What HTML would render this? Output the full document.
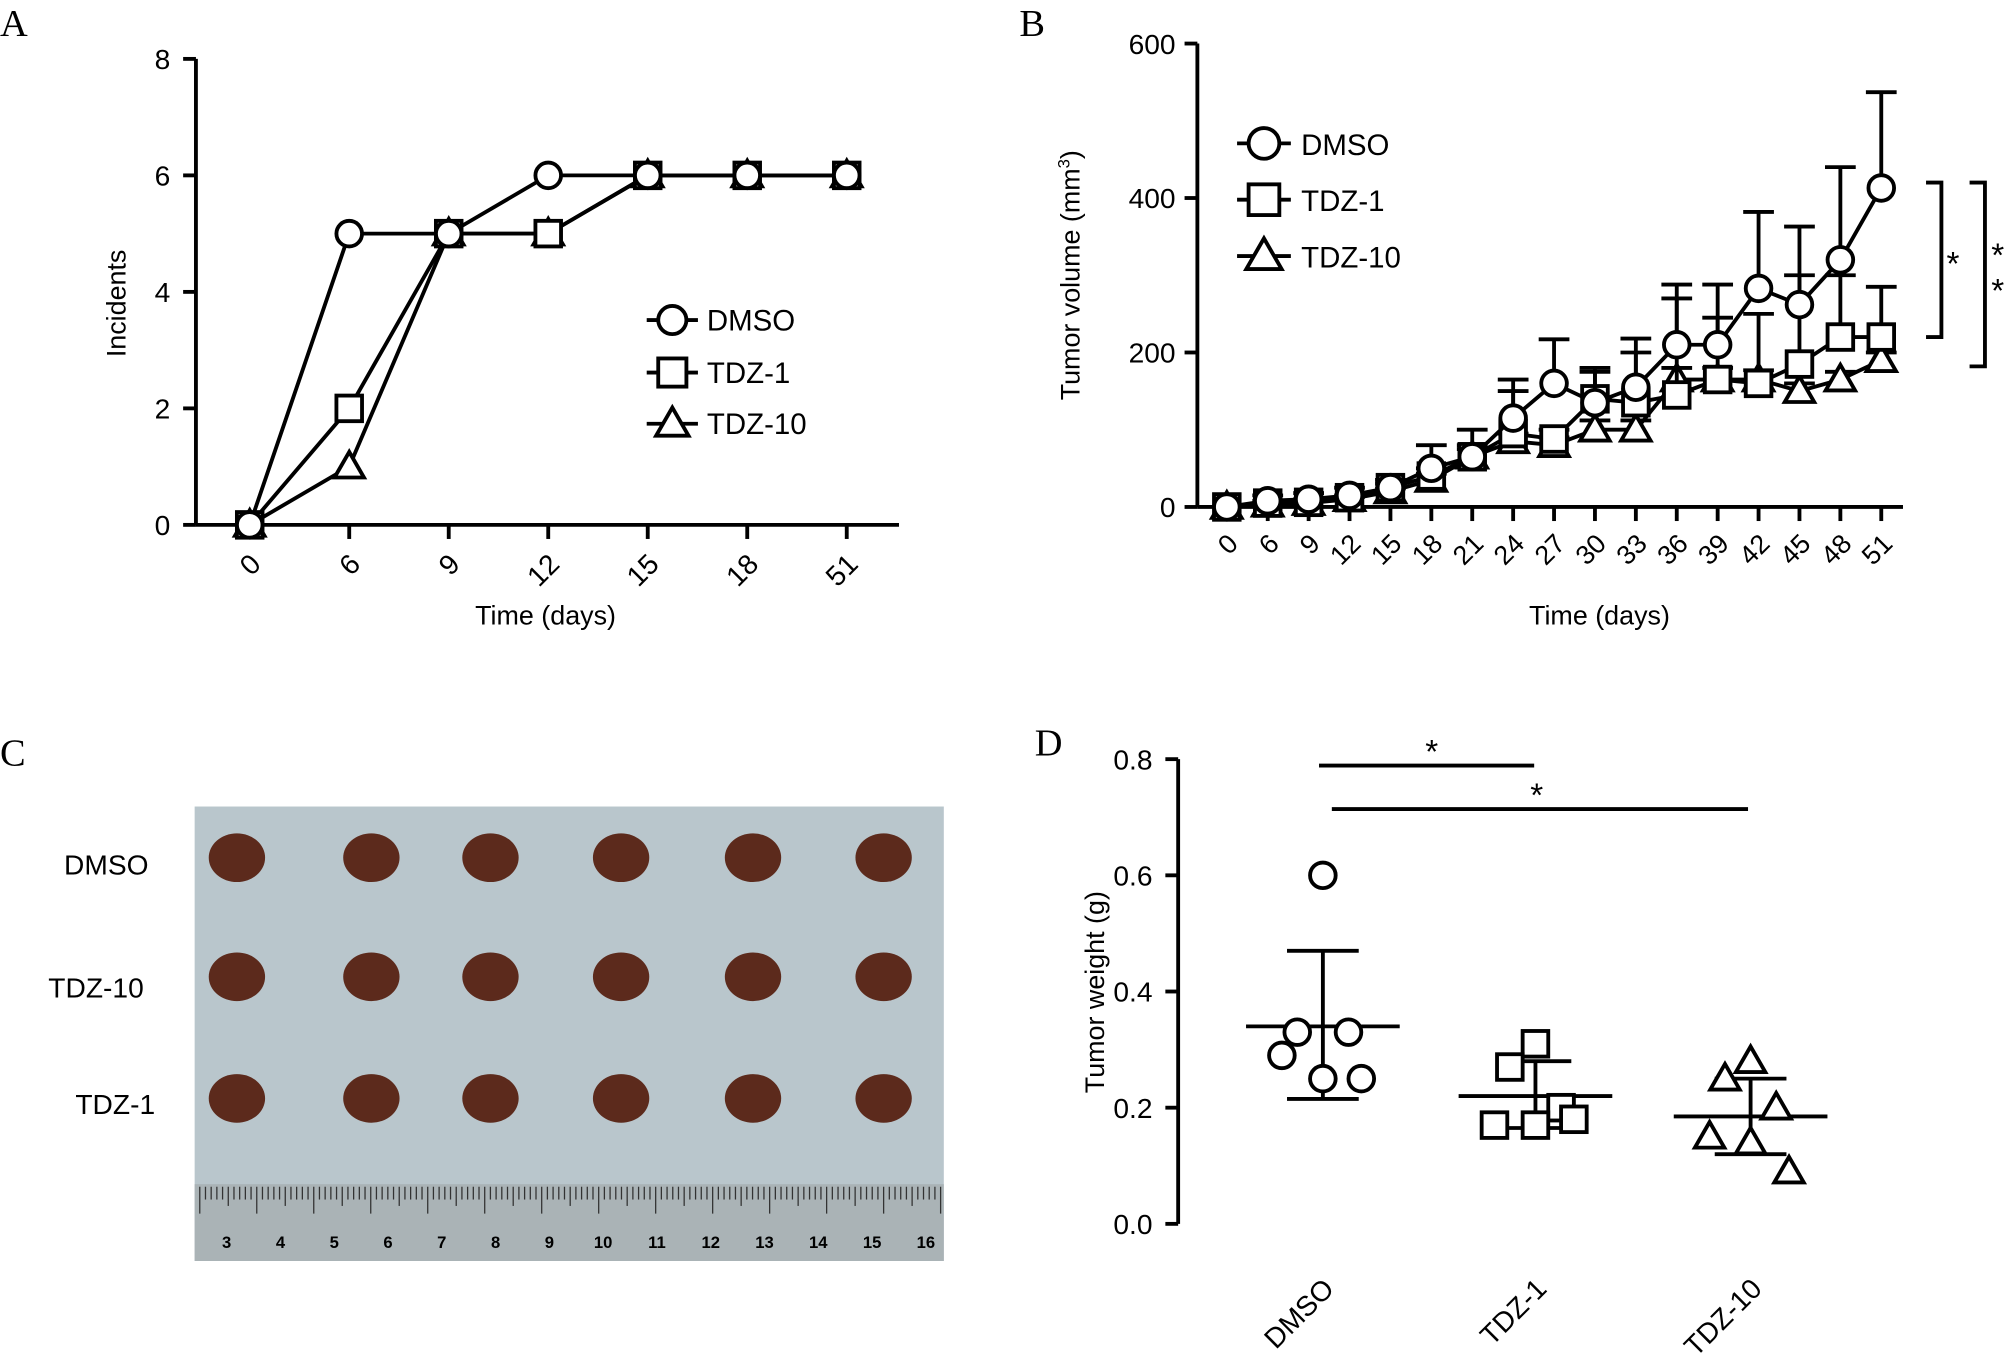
<!DOCTYPE html>
<html><head><meta charset="utf-8"><style>
html,body{margin:0;padding:0;background:#fff}
svg{display:block}
text{font-family:"Liberation Sans",Arial,sans-serif;fill:#000}
.pl{font-family:"Liberation Serif",serif;font-size:30px}
</style></head><body>
<svg id="fig" width="2008" height="1357" viewBox="0 0 1568 1060" preserveAspectRatio="none" xmlns="http://www.w3.org/2000/svg">
<text class="pl" x="0" y="28">A</text>
<text class="pl" x="796" y="28">B</text>
<text class="pl" x="0" y="598">C</text>
<text class="pl" x="808" y="590">D</text>
<g id="pa"></g>
<g id="pb"></g>
<g id="pc"></g>
<g id="pd"></g>
</svg>
<script>
// Panel A data
const aCats = ["0","6","9","12","15","18","51"];
const aDMSO = [0,5,5,6,6,6,6];
const aTDZ1 = [0,2,5,5,6,6,6];
const aTDZ10 = [0,1,5,5,6,6,6];
const aTicks = [0,2,4,6,8];
// Panel B data
const bCats = ["0","6","9","12","15","18","21","24","27","30","33","36","39","42","45","48","51"];
const bDMSO = [0,8,10,15,25,50,65,115,160,135,155,210,210,283,262,320,413];
const bDMSOerr = [0,7,8,10,10,30,35,50,57,45,63,78,78,99,101,120,124];
const bTDZ1 = [0,5,6,12,25,40,65,95,88,140,135,145,165,160,185,220,220];
const bTDZ1err = [0,3,4,3,5,10,15,55,12,35,65,125,80,90,115,80,65];
const bTDZ10 = [0,3,5,10,20,35,65,85,80,100,100,165,165,165,150,165,190];
const bTDZ10err = [0,2,2,3,4,8,10,10,10,12,12,15,15,12,10,10,10];
const bTicks = [0,200,400,600];
// Panel D data
const dCats = ["DMSO","TDZ-1","TDZ-10"];
const dDMSO = [0.60,0.33,0.33,0.29,0.25,0.25];
const dTDZ1 = [0.31,0.27,0.20,0.17,0.17,0.18];
const dTDZ10 = [0.28,0.25,0.20,0.15,0.14,0.09];
const dMean = [0.34,0.22,0.185];
const dSDhi = [0.47,0.28,0.25];
const dSDlo = [0.215,0.165,0.12];
const dTicks = [0,0.2,0.4,0.6,0.8];

const NS="http://www.w3.org/2000/svg";
function mk(p,tag,at,txt){const e=document.createElementNS(NS,tag);for(const k in at)e.setAttribute(k,at[k]);if(txt!==undefined)e.textContent=txt;p.appendChild(e);return e;}
function marker(g,shape,x,y,r,sw){
  let e;
  if(shape==="circle") e=mk(g,"circle",{cx:x,cy:y,r:r,fill:"#fff",stroke:"#000","stroke-width":sw});
  else if(shape==="square") e=mk(g,"rect",{x:x-r,y:y-r,width:2*r,height:2*r,fill:"#fff",stroke:"#000","stroke-width":sw});
  else e=mk(g,"polygon",{points:`${x},${y-r*1.15} ${x-r*1.15},${y+r*0.85} ${x+r*1.15},${y+r*0.85}`,fill:"#fff",stroke:"#000","stroke-width":sw});
  return e;
}
function rotLabel(g,txt,x,y,fs,ang){
  const t=mk(g,"text",{x:x,y:y,"font-size":fs,"text-anchor":"end",transform:`rotate(${ang} ${x} ${y})`},txt);
  return t;
}
// ---------- Panel A ----------
(function(){
  const g=document.getElementById("pa");
  const x0=195,dx=77.7,yb=410,ppu=45.5;
  const X=i=>x0+i*dx, Y=v=>yb-v*ppu;
  mk(g,"line",{x1:153,y1:Y(8),x2:153,y2:yb,stroke:"#000","stroke-width":3});
  mk(g,"line",{x1:153,y1:yb,x2:702,y2:yb,stroke:"#000","stroke-width":3});
  aTicks.forEach(v=>{
    const t=mk(g,"line",{x1:143,y1:Y(v),x2:153,y2:Y(v),stroke:"#000","stroke-width":3});
    
    
    mk(g,"text",{x:133,y:Y(v)+8,"font-size":22,"text-anchor":"end"},v);
  });
  aCats.forEach((c,i)=>{
    mk(g,"line",{x1:X(i),y1:yb,x2:X(i),y2:yb+11,stroke:"#000","stroke-width":3});
    const t=rotLabel(g,c,X(i)+10,yb+32,22,-45);
    
    
  });
  mk(g,"text",{x:426,y:488,"font-size":21,"text-anchor":"middle"},"Time (days)");
  mk(g,"text",{x:0,y:0,"font-size":21,"text-anchor":"middle",transform:"translate(98 237) rotate(-90)"},"Incidents");
  const series=[[aTDZ10,"triangle"],[aTDZ1,"square"],[aDMSO,"circle"]];
  series.forEach(([d,s])=>{
    const pl=mk(g,"polyline",{points:d.map((v,i)=>X(i)+","+Y(v)).join(" "),fill:"none",stroke:"#000","stroke-width":3});
    
    
    d.forEach((v,i)=>{const m=marker(g,s,X(i),Y(v),10,3);
      
      });
  });
  const leg=[["DMSO","circle",250],["TDZ-1","square",291],["TDZ-10","triangle",331]];
  leg.forEach(([n,s,y])=>{
    mk(g,"line",{x1:505,y1:y,x2:545,y2:y,stroke:"#000","stroke-width":3});
    marker(g,s,525,y,11,3);
    const t=mk(g,"text",{x:552,y:y+8,"font-size":23},n);
    
    
  });
})();
// ---------- Panel B ----------
(function(){
  const g=document.getElementById("pb");
  const x0=958,dx=31.94,yb=396,ppu=0.6033;
  const X=i=>x0+i*dx, Y=v=>yb-v*ppu;
  mk(g,"line",{x1:935,y1:Y(600),x2:935,y2:yb,stroke:"#000","stroke-width":3});
  mk(g,"line",{x1:935,y1:yb,x2:1486,y2:yb,stroke:"#000","stroke-width":3});
  bTicks.forEach(v=>{
    mk(g,"line",{x1:925,y1:Y(v),x2:935,y2:Y(v),stroke:"#000","stroke-width":3});
    const t=mk(g,"text",{x:918,y:Y(v)+8,"font-size":22,"text-anchor":"end"},v);
    
    
  });
  bCats.forEach((c,i)=>{
    mk(g,"line",{x1:X(i),y1:yb,x2:X(i),y2:yb+11,stroke:"#000","stroke-width":3});
    const t=rotLabel(g,c,X(i)+10,yb+30,21,-45);
    
    
  });
  mk(g,"text",{x:1249,y:488,"font-size":21,"text-anchor":"middle"},"Time (days)");
  const yl=mk(g,"text",{x:0,y:0,"font-size":21,"text-anchor":"middle",transform:"translate(843 215) rotate(-90)"});
  yl.appendChild(document.createTextNode("Tumor volume (mm"));
  mk(yl,"tspan",{"font-size":13,dy:-8},"3");
  mk(yl,"tspan",{dy:8},")");
  const series=[[bTDZ10,bTDZ10err,"triangle"],[bTDZ1,bTDZ1err,"square"],[bDMSO,bDMSOerr,"circle"]];
  series.forEach(([d,e,s])=>{
    d.forEach((v,i)=>{ if(e[i]>0){
      mk(g,"line",{x1:X(i),y1:Y(v),x2:X(i),y2:Y(v+e[i]),stroke:"#000","stroke-width":3});
      mk(g,"line",{x1:X(i)-12,y1:Y(v+e[i]),x2:X(i)+12,y2:Y(v+e[i]),stroke:"#000","stroke-width":3});}});
    const pl=mk(g,"polyline",{points:d.map((v,i)=>X(i)+","+Y(v)).join(" "),fill:"none",stroke:"#000","stroke-width":3});
    
    
    d.forEach((v,i)=>{const m=marker(g,s,X(i),Y(v),10,3);
      
      });
  });
  const leg=[["DMSO","circle",112],["TDZ-1","square",156],["TDZ-10","triangle",200]];
  leg.forEach(([n,s,y])=>{
    mk(g,"line",{x1:966,y1:y,x2:1008,y2:y,stroke:"#000","stroke-width":3});
    marker(g,s,987,y,12,3);
    const t=mk(g,"text",{x:1016,y:y+9,"font-size":23},n);
    
    
  });
  const br=(x,y1,y2)=>mk(g,"polyline",{points:`${x-12},${y1} ${x},${y1} ${x},${y2} ${x-12},${y2}`,fill:"none",stroke:"#000","stroke-width":3});
  br(1516,Y(420),Y(220));
  mk(g,"text",{x:1525,y:215,"font-size":26,"text-anchor":"middle"},"*");
  br(1550,Y(420),Y(182));
  mk(g,"text",{x:1560,y:208,"font-size":26,"text-anchor":"middle"},"*");
  mk(g,"text",{x:1560,y:236,"font-size":26,"text-anchor":"middle"},"*");
})();
// ---------- Panel C (photo) ----------
(function(){
  const g=document.getElementById("pc");
  mk(g,"rect",{x:152,y:630,width:585,height:355,fill:"#b9c6cc"});
  mk(g,"rect",{x:152,y:925,width:585,height:60,fill:"#aab3b6"});
  for(let i=0;i<=130;i++){const x=156+i*4.45;const long=i%10===0,mid=i%5===0;
    mk(g,"line",{x1:x,y1:927,x2:x,y2:long?948:(mid?942:937),stroke:"#333","stroke-width":1});}
  for(let n=3;n<=16;n++){const x=177+(n-3)*42;
    mk(g,"text",{x:x,y:975,"font-size":13,"font-weight":"bold","text-anchor":"middle"},n);}
  const cols=[185,290,383,485,588,690], rows=[670,763,858];
  rows.forEach(r=>cols.forEach(c=>{
    const e=mk(g,"ellipse",{cx:c,cy:r,rx:22,ry:19,fill:"#5c2a1c"});
    
    
  }));
  [["DMSO",83,683],["TDZ-10",75,779],["TDZ-1",90,870]].forEach(([n,x,y])=>{
    const t=mk(g,"text",{x:x,y:y,"font-size":22,"text-anchor":"middle"},n);
    
    
  });
})();
// ---------- Panel D ----------
(function(){
  const g=document.getElementById("pd");
  const xs=[1033,1199,1367], yb=956, ppu=453.75;
  const Y=v=>yb-v*ppu;
  mk(g,"line",{x1:920,y1:Y(0.8),x2:920,y2:yb,stroke:"#000","stroke-width":3});
  dTicks.forEach(v=>{
    mk(g,"line",{x1:910,y1:Y(v),x2:920,y2:Y(v),stroke:"#000","stroke-width":3});
    const t=mk(g,"text",{x:900,y:Y(v)+8,"font-size":22,"text-anchor":"end"},v.toFixed(1));
    
    
  });
  mk(g,"text",{x:0,y:0,"font-size":21,"text-anchor":"middle",transform:"translate(862 775) rotate(-90)"},"Tumor weight (g)");
  dCats.forEach((c,i)=>{
    const t=rotLabel(g,c,xs[i]+10,yb+52,22,-45);
    
    
  });
  const offs=[0,-20,20,-32,0,30];
  const groups=[[dDMSO,"circle"],[dTDZ1,"square"],[dTDZ10,"triangle"]];
  groups.forEach(([d,s],gi)=>{
    const x=xs[gi];
    mk(g,"line",{x1:x,y1:Y(dSDhi[gi]),x2:x,y2:Y(dSDlo[gi]),stroke:"#000","stroke-width":3});
    mk(g,"line",{x1:x-28,y1:Y(dSDhi[gi]),x2:x+28,y2:Y(dSDhi[gi]),stroke:"#000","stroke-width":3});
    mk(g,"line",{x1:x-28,y1:Y(dSDlo[gi]),x2:x+28,y2:Y(dSDlo[gi]),stroke:"#000","stroke-width":3});
    const m=mk(g,"line",{x1:x-60,y1:Y(dMean[gi]),x2:x+60,y2:Y(dMean[gi]),stroke:"#000","stroke-width":3});
    
    
    d.forEach((v,j)=>{const p=marker(g,s,x+offs[j],Y(v),10,3);
      
      });
  });
  mk(g,"line",{x1:1030,y1:598,x2:1198,y2:598,stroke:"#000","stroke-width":3});
  mk(g,"text",{x:1118,y:596,"font-size":26,"text-anchor":"middle"},"*");
  mk(g,"line",{x1:1040,y1:632,x2:1365,y2:632,stroke:"#000","stroke-width":3});
  mk(g,"text",{x:1200,y:630,"font-size":26,"text-anchor":"middle"},"*");
})();
</script>
</body></html>
